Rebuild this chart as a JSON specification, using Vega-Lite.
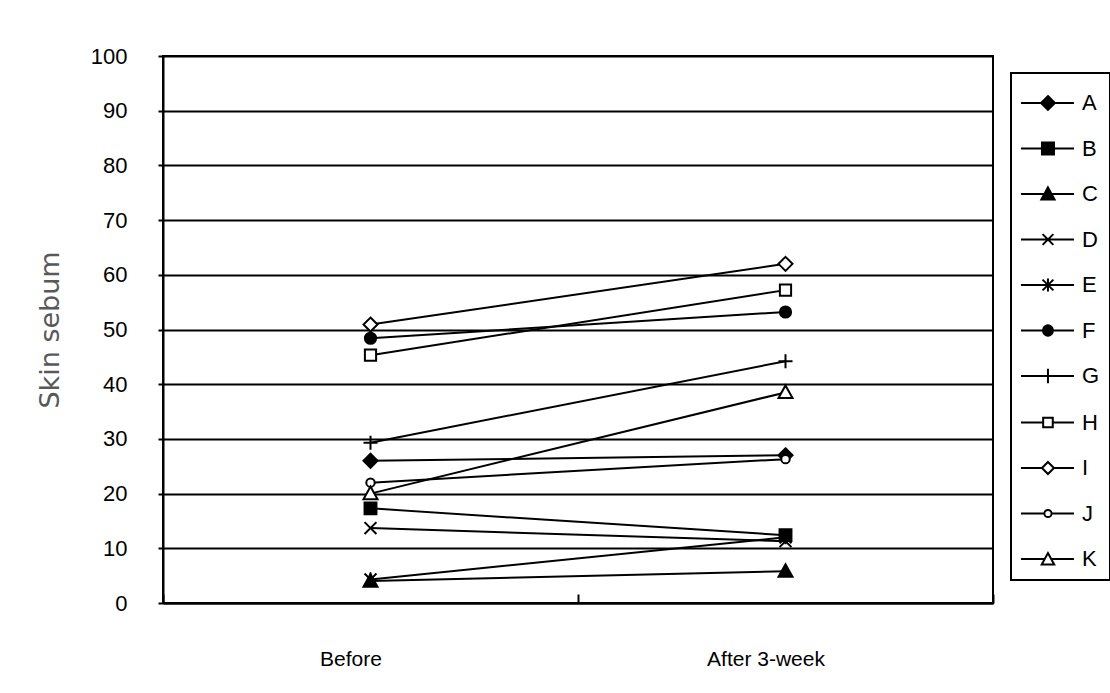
{
  "$schema": "https://vega.github.io/schema/vega-lite/v6.json",
  "width": 830,
  "height": 547,
  "autosize": {"type": "none"},
  "padding": {"left": 163, "top": 56, "right": 117, "bottom": 90},
  "background": "white",
  "config": {
    "view": {"stroke": "black", "strokeWidth": 2},
    "font": "Liberation Sans"
  },
  "data": {
    "values": [
      {"subject": "A", "time": "Before", "sebum": 26},
      {"subject": "A", "time": "After 3-week", "sebum": 27},
      {"subject": "B", "time": "Before", "sebum": 17.3},
      {"subject": "B", "time": "After 3-week", "sebum": 12.4},
      {"subject": "C", "time": "Before", "sebum": 4},
      {"subject": "C", "time": "After 3-week", "sebum": 5.8},
      {"subject": "D", "time": "Before", "sebum": 13.7},
      {"subject": "D", "time": "After 3-week", "sebum": 11.3},
      {"subject": "E", "time": "Before", "sebum": 4.3},
      {"subject": "E", "time": "After 3-week", "sebum": 12},
      {"subject": "F", "time": "Before", "sebum": 48.4},
      {"subject": "F", "time": "After 3-week", "sebum": 53.2},
      {"subject": "G", "time": "Before", "sebum": 29.3},
      {"subject": "G", "time": "After 3-week", "sebum": 44.2},
      {"subject": "H", "time": "Before", "sebum": 45.3},
      {"subject": "H", "time": "After 3-week", "sebum": 57.2},
      {"subject": "I", "time": "Before", "sebum": 50.9},
      {"subject": "I", "time": "After 3-week", "sebum": 62},
      {"subject": "J", "time": "Before", "sebum": 22},
      {"subject": "J", "time": "After 3-week", "sebum": 26.3},
      {"subject": "K", "time": "Before", "sebum": 20},
      {"subject": "K", "time": "After 3-week", "sebum": 38.5}
    ]
  },
  "encoding": {
    "x": {
      "field": "time",
      "type": "nominal",
      "sort": ["Before", "After 3-week"],
      "bandPosition": 0.5,
      "scale": {"type": "band", "paddingInner": 0, "paddingOuter": 0},
      "axis": {
        "title": null,
        "grid": false,
        "tickBand": "extent",
        "tickSize": -9,
        "tickColor": "black",
        "tickWidth": 2,
        "domainColor": "black",
        "domainWidth": 2,
        "labelAngle": 0,
        "labelFont": "Liberation Sans",
        "labelFontSize": 21,
        "labelColor": "black",
        "labelPadding": 54,
        "labelOffset": -20
      }
    },
    "y": {
      "field": "sebum",
      "type": "quantitative",
      "scale": {"domain": [0, 100], "nice": false, "zero": true},
      "axis": {
        "values": [0, 10, 20, 30, 40, 50, 60, 70, 80, 90, 100],
        "grid": true,
        "gridColor": "black",
        "gridWidth": 2,
        "gridOpacity": 1,
        "domainColor": "black",
        "domainWidth": 2,
        "tickColor": "black",
        "tickWidth": 2,
        "tickSize": 5,
        "labelFont": "Liberation Sans",
        "labelFontSize": 22,
        "labelColor": "black",
        "labelPadding": 31,
        "title": "Skin sebum",
        "titleFont": "DejaVu Sans",
        "titleFontSize": 27,
        "titleFontWeight": "normal",
        "titleColor": "#595959",
        "titlePadding": 26
      }
    }
  },
  "layer": [
    {
      "mark": {"type": "line", "color": "black", "strokeWidth": 2},
      "encoding": {"detail": {"field": "subject", "type": "nominal"}}
    },
    {
      "mark": {"type": "point", "filled": false, "size": 196, "stroke": "black", "strokeWidth": 2, "opacity": 1},
      "encoding": {
        "shape": {
          "field": "subject",
          "type": "nominal",
          "legend": null,
          "scale": {
            "domain": ["A", "B", "C", "D", "E", "F", "G", "H", "I", "J", "K"],
            "range": [
              "M0,-1L1,0L0,1L-1,0Z",
              "M-0.85,-0.85H0.85V0.85H-0.85Z",
              "M0,-1L1,0.8H-1Z",
              "M-0.85,-0.85L0.85,0.85M-0.85,0.85L0.85,-0.85",
              "M-0.85,-0.85L0.85,0.85M-0.85,0.85L0.85,-0.85M0,-1V1",
              "M-0.8,0A0.8,0.8,0,1,0,0.8,0A0.8,0.8,0,1,0,-0.8,0Z",
              "M-1,0H1M0,-1V1",
              "M-0.8,-0.8H0.8V0.8H-0.8Z",
              "M0,-1L1,0L0,1L-1,0Z",
              "M-0.6,0A0.6,0.6,0,1,0,0.6,0A0.6,0.6,0,1,0,-0.6,0Z",
              "M0,-1L1,0.8H-1Z"
            ]
          }
        },
        "fill": {
          "field": "subject",
          "type": "nominal",
          "legend": null,
          "scale": {
            "domain": ["A", "B", "C", "D", "E", "F", "G", "H", "I", "J", "K"],
            "range": ["black", "black", "black", "black", "black", "black", "black", "white", "white", "white", "white"]
          }
        }
      }
    },
    {
      "mark": {"type": "point", "filled": false, "size": 1444, "stroke": "black", "strokeWidth": 2, "opacity": 0},
      "encoding": {
        "shape": {
          "field": "subject",
          "type": "nominal",
          "scale": {
            "domain": ["A", "B", "C", "D", "E", "F", "G", "H", "I", "J", "K"],
            "range": [
              "M-1.055,0H1.737M0.366,-0.366L0.733,0L0.366,0.366L0,0Z",
              "M-1.055,0H1.737M0.051,-0.316H0.682V0.316H0.051Z",
              "M-1.055,0H1.737M0.366,-0.347L0.714,0.284H0.019Z",
              "M-1.055,0H1.737M0.082,-0.284L0.651,0.284M0.082,0.284L0.651,-0.284",
              "M-1.055,0H1.737M0.082,-0.284L0.651,0.284M0.082,0.284L0.651,-0.284M0.366,-0.347V0.347",
              "M-1.055,0H1.737M0.114,0A0.253,0.253,0,1,0,0.619,0A0.253,0.253,0,1,0,0.114,0Z",
              "M-1.055,0H1.737M0.366,-0.379V0.379",
              "M-1.055,0H0.114M0.619,0H1.737M0.114,-0.253H0.619V0.253H0.114Z",
              "M-1.055,0H0.051M0.682,0H1.737M0.366,-0.316L0.682,0L0.366,0.316L0.051,0Z",
              "M-1.055,0H0.177M0.556,0H1.737M0.177,0A0.189,0.189,0,1,0,0.556,0A0.189,0.189,0,1,0,0.177,0Z",
              "M-1.055,0H0.202M0.531,0H1.737M0.366,-0.316L0.695,0.284H0.038Z"
            ]
          },
          "legend": {
            "title": null,
            "orient": "none",
            "legendX": 848,
            "legendY": 17,
            "symbolSize": 1444,
            "rowPadding": 14.5,
            "padding": 10,
            "labelOffset": 21,
            "labelFont": "Liberation Sans",
            "labelFontSize": 22,
            "labelColor": "black",
            "strokeColor": "black",
            "fillColor": "white",
            "symbolStrokeColor": "black",
            "symbolStrokeWidth": 2,
            "symbolOpacity": 1,
            "encode": {
              "symbols": {"update": {"opacity": {"value": 1}, "strokeWidth": {"value": 2}, "stroke": {"value": "black"}}},
              "legend": {"update": {"strokeWidth": {"value": 2}}}
            }
          }
        },
        "fill": {
          "field": "subject",
          "type": "nominal",
          "scale": {
            "domain": ["A", "B", "C", "D", "E", "F", "G", "H", "I", "J", "K"],
            "range": ["black", "black", "black", "black", "black", "black", "black", "white", "white", "white", "white"]
          },
          "legend": {
            "title": null,
            "orient": "none",
            "legendX": 848,
            "legendY": 17,
            "symbolSize": 1444,
            "rowPadding": 14.5,
            "padding": 10,
            "labelOffset": 21,
            "labelFont": "Liberation Sans",
            "labelFontSize": 22,
            "labelColor": "black",
            "strokeColor": "black",
            "fillColor": "white",
            "symbolStrokeColor": "black",
            "symbolStrokeWidth": 2,
            "symbolOpacity": 1,
            "encode": {
              "symbols": {"update": {"opacity": {"value": 1}, "strokeWidth": {"value": 2}, "stroke": {"value": "black"}}},
              "legend": {"update": {"strokeWidth": {"value": 2}}}
            }
          }
        }
      }
    }
  ],
  "resolve": {
    "scale": {"shape": "independent", "fill": "independent"},
    "legend": {"shape": "independent", "fill": "independent"}
  }
}
